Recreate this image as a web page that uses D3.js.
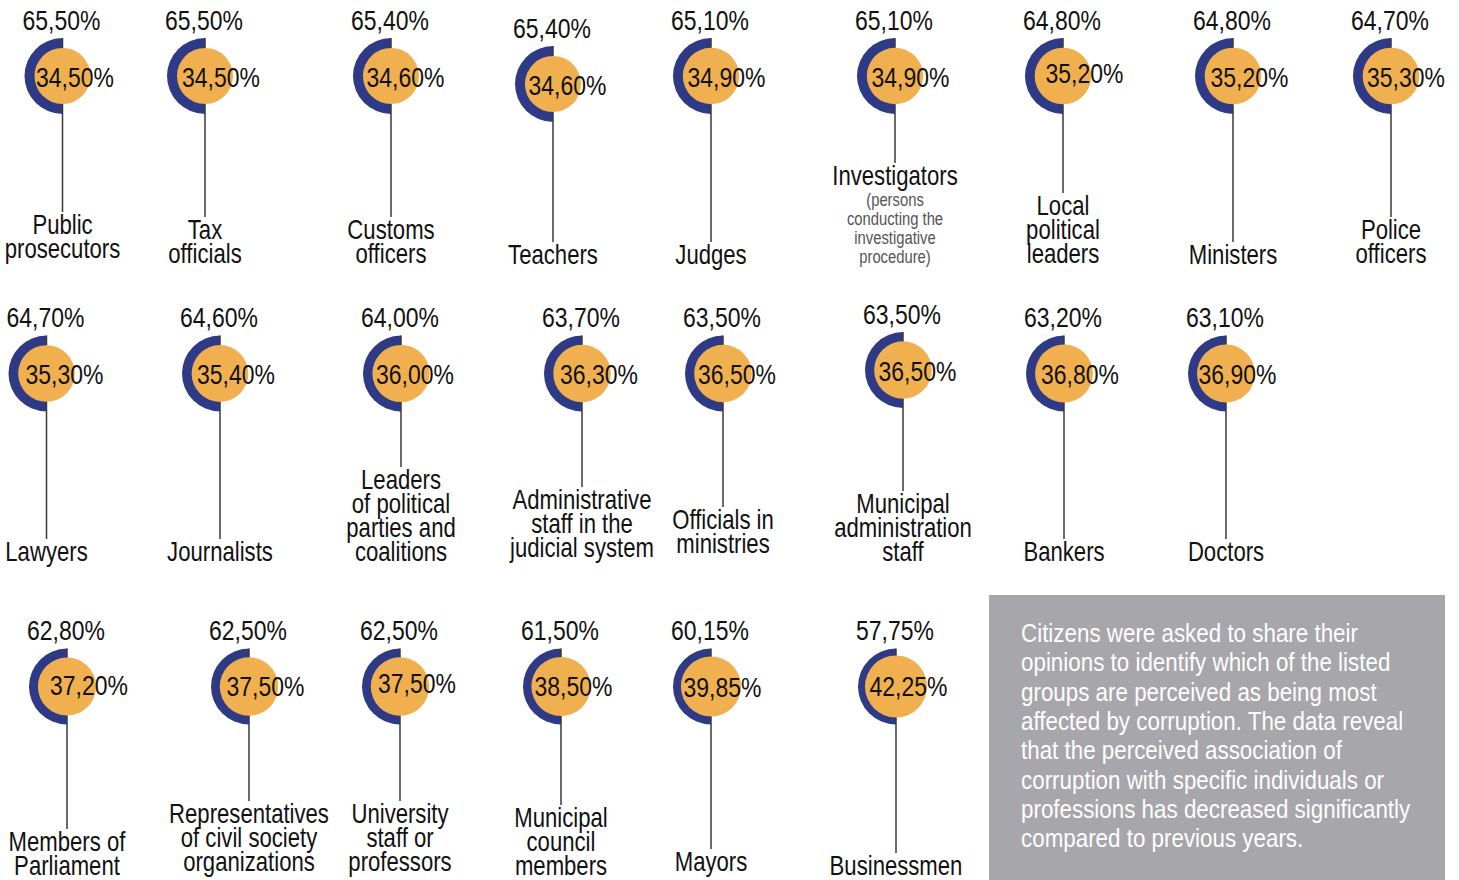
<!DOCTYPE html>
<html><head><meta charset="utf-8">
<script src="https://cdn.jsdelivr.net/npm/d3@7"></script>
<style>html,body{margin:0;padding:0;background:#fff;overflow:hidden}</style>
</head><body>
<svg id="chart" width="1459" height="880"></svg>
<script>
// ---------- DATA ----------
const categories = [
  ["Public","prosecutors"], ["Tax","officials"], ["Customs","officers"], ["Teachers"], ["Judges"],
  ["Investigators"], ["Local","political","leaders"], ["Ministers"], ["Police","officers"],
  ["Lawyers"], ["Journalists"], ["Leaders","of political","parties and","coalitions"],
  ["Administrative","staff in the","judicial system"], ["Officials in","ministries"],
  ["Municipal","administration","staff"], ["Bankers"], ["Doctors"],
  ["Members of","Parliament"], ["Representatives","of civil society","organizations"],
  ["University","staff or","professors"], ["Municipal","council","members"], ["Mayors"], ["Businessmen"]
];
const notes = [[],[],[],[],[],["(persons","conducting the","investigative","procedure)"],[],[],[],
  [],[],[],[],[],[],[],[], [],[],[],[],[],[]];
const affected = [65.50,65.50,65.40,65.40,65.10,65.10,64.80,64.80,64.70,
  64.70,64.60,64.00,63.70,63.50,63.50,63.20,63.10,
  62.80,62.50,62.50,61.50,60.15,57.75];
const notAffected = [34.50,34.50,34.60,34.60,34.90,34.90,35.20,35.20,35.30,
  35.30,35.40,36.00,36.30,36.50,36.50,36.80,36.90,
  37.20,37.50,37.50,38.50,39.85,42.25];
const noteText = [
  "Citizens were asked to share their",
  "opinions to identify which of the listed",
  "groups are perceived as being most",
  "affected by corruption. The data reveal",
  "that the perceived association of",
  "corruption with specific individuals or",
  "professions has decreased significantly",
  "compared to previous years."
];

// ---------- LAYOUT ----------
const cxs = [62.5,205,391,553,711,895,1063,1233,1391, 46.5,220,401,582,723,903,1064,1226, 67,249,400,561,711,896];
const cys = [76,76,76,84,76,76,76,76,76, 373.5,373.5,373.5,373.5,373.5,370,373.5,373.5, 686.5,686.5,686.5,686.5,686.5,686.5];
const labelBase = [258,263,263,264,264,185,263,264,263, 561,561,561,557,553,561,561,561, 875,871,871,875,871,875];
const innerDx = [12.5,16,14.5,14.5,15.5,15.5,21.5,16.5,15, 18,16,14,17,14,14.5,16,11.5, 22,16.5,17,12.5,11.5,12.5];
const innerDy = [1,1,1,1,1,1,-3,1,1, 0.5,0.5,0.5,0.5,0.5,1,0.5,0, -2,-0.5,-3.5,-0.5,0.5,-0.5];

const NAVY = "#2f3a87", ORANGE = "#f0b04f", INK = "#111";
const R_OUTER = 38;
const LINE_H = 24, NOTE_H = 19;

function hasFont(name){
  const c = document.createElement("canvas").getContext("2d");
  c.font = "40px monospace"; const a = c.measureText("Administrative 0123").width;
  c.font = `40px '${name}', monospace`; const b = c.measureText("Administrative 0123").width;
  return Math.abs(a-b) > 0.5;
}
const narrow = hasFont("Liberation Sans Narrow");
const FAMILY = narrow ? "'Liberation Sans Narrow', 'Arial Narrow', sans-serif" : "'Liberation Sans', Arial, sans-serif";
const SX = narrow ? 1 : 0.82;

const svg = d3.select("#chart");
const fmtBase = d3.formatLocale({decimal:",", thousands:".", grouping:[3], currency:["","€"]}).format(".2f");
const fmt = v => fmtBase(v) + "%";
const rScale = d3.scaleSqrt().domain([0, d3.max(notAffected)]).range([0, 31]);
const halfArc = d3.arc().innerRadius(0).outerRadius(R_OUTER).startAngle(Math.PI).endAngle(2*Math.PI);

function txt(g, x, y, s, size, opts={}){
  const sx = SX * (opts.sx || 1);
  return g.append("text")
    .attr("transform", `translate(${x},${y}) scale(${sx},1)`)
    .attr("text-anchor", opts.anchor || "middle")
    .attr("font-family", FAMILY)
    .attr("font-size", size)
    .attr("font-weight", opts.weight || 400)
    .attr("fill", opts.fill || INK)
    .text(s);
}

const items = categories.map((c,i)=>({
  lines:c, note:notes[i], a:affected[i], n:notAffected[i],
  cx:cxs[i], cy:cys[i], base:labelBase[i], dx:innerDx[i], dy:innerDy[i]
}));

items.forEach(d=>{
  const g = svg.append("g");
  const nLines = d.lines.length;
  const firstBase = d.base - (nLines-1)*LINE_H;
  g.append("path").attr("d", halfArc()).attr("transform",`translate(${d.cx},${d.cy})`).attr("fill", NAVY);
  g.append("line").attr("x1", d.cx).attr("x2", d.cx)
    .attr("y1", d.cy - R_OUTER).attr("y2", firstBase - 22)
    .attr("stroke", "#3a3a3a").attr("stroke-width", 1.5);
  g.append("circle").attr("cx", d.cx).attr("cy", d.cy).attr("r", rScale(d.n)).attr("fill", ORANGE);
  txt(g, d.cx - 1, d.cy - 46.5, fmt(d.a), 28);
  txt(g, d.cx + d.dx, d.cy + d.dy + 10, fmt(d.n), 28);
  d.lines.forEach((s,k)=> txt(g, d.cx, firstBase + k*LINE_H, s, 27));
  d.note.forEach((s,k)=> txt(g, d.cx, d.base + 21 + k*NOTE_H, s, 19, {fill:"#555", weight:300, sx:0.95}));
});

const box = svg.append("g");
box.append("rect").attr("x", 989).attr("y", 595).attr("width", 456).attr("height", 285).attr("fill", "#a7a6ab");
noteText.forEach((s,k)=> txt(box, 1021, 642 + k*29.3, s, 26.5, {anchor:"start", fill:"#fff", sx:1.03}));
</script>
</body></html>
